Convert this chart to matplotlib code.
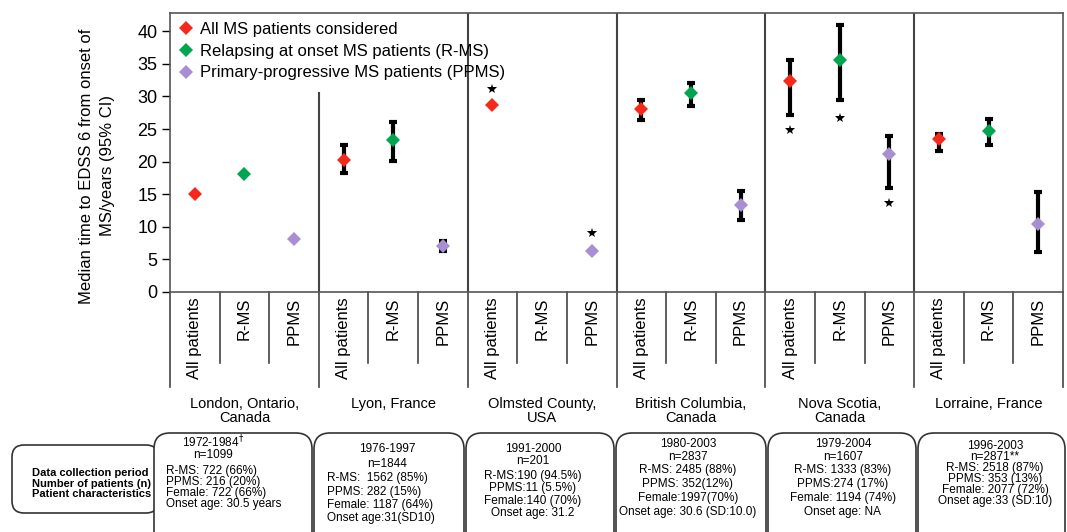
import numpy as np
import matplotlib
matplotlib.use("Agg")
import matplotlib.pyplot as plt
from matplotlib.patches import FancyBboxPatch

plt.rcParams['font.family'] = ['Liberation Sans', 'DejaVu Sans']

# cohorts and the three patient subsets plotted within each
groups = ["London, Ontario,\nCanada", "Lyon, France", "Olmsted County,\nUSA",
          "British Columbia,\nCanada", "Nova Scotia,\nCanada", "Lorraine, France"]
subsets = ["All patients", "R-MS", "PPMS"]

nan = np.nan
# median time to EDSS 6 (years) and 95% CI per cohort
all_med = [15.1, 20.2, 28.7, 28.0, 32.4, 23.4]
all_lo = [nan, 18.2, nan, 26.4, 27.2, 21.6]
all_hi = [nan, 22.5, nan, 29.4, 35.6, 24.3]

rms_med = [18.1, 23.3, nan, 30.5, 35.6, 24.7]
rms_lo = [nan, 20.1, nan, 28.5, 29.4, 22.6]
rms_hi = [nan, 26.1, nan, 32.1, 41.0, 26.6]

pp_med = [8.1, 7.0, 6.3, 13.3, 21.1, 10.4]
pp_lo = [nan, 6.3, nan, 11.0, 15.9, 6.1]
pp_hi = [nan, 7.8, nan, 15.5, 23.9, 15.3]

# asterisks: (cohort, subset, y)
stars = [(2, 0, 31.2), (2, 2, 9.0), (4, 0, 24.9), (4, 1, 26.7), (4, 2, 13.7)]

series = [
    ("All MS patients considered", "#f5281c", all_med, all_lo, all_hi),
    ("Relapsing at onset MS patients (R-MS)", "#00a550", rms_med, rms_lo, rms_hi),
    ("Primary-progressive MS patients (PPMS)", "#a78fd2", pp_med, pp_lo, pp_hi),
]

row_labels = "Data collection period\nNumber of patients (n)\nPatient characteristics"
box_head = [["1972-1984$^{\\dagger}$", "n=1099"], ["1976-1997", "n=1844"],
            ["1991-2000", "n=201"], ["1980-2003", "n=2837"],
            ["1979-2004", "n=1607"], ["1996-2003", "n=2871**"]]
box_body = [["R-MS: 722 (66%)", "PPMS: 216 (20%)", "Female: 722 (66%)", "Onset age: 30.5 years"],
            ["R-MS:  1562 (85%)", "PPMS: 282 (15%)", "Female: 1187 (64%)", "Onset age:31(SD10)"],
            ["R-MS:190 (94.5%)", "PPMS:11 (5.5%)", "Female:140 (70%)", "Onset age: 31.2"],
            ["R-MS: 2485 (88%)", "PPMS: 352(12%)", "Female:1997(70%)", "Onset age: 30.6 (SD:10.0)"],
            ["R-MS: 1333 (83%)", "PPMS:274 (17%)", "Female: 1194 (74%)", "Onset age: NA"],
            ["R-MS: 2518 (87%)", "PPMS: 353 (13%)", "Female: 2077 (72%)", "Onset age:33 (SD:10)"]]

W, H = 1067, 532
fig = plt.figure(figsize=(W / 100, H / 100), dpi=100)
ax = fig.add_axes([170 / W, 1 - 292 / H, (1063 - 170) / W, (292 - 13) / H])

ng = len(groups)
ymax = 42.8
for k, (label, color, med, lo, hi) in enumerate(series):
    med = np.array(med); lo = np.array(lo); hi = np.array(hi)
    x = np.arange(ng) * 3 + k
    ok = ~np.isnan(lo)
    ax.errorbar(x[ok], med[ok], yerr=[med[ok] - lo[ok], hi[ok] - med[ok]],
                fmt='none', ecolor='black', elinewidth=3, capsize=3, capthick=3, zorder=2)
    ax.plot(x, med, 'D', color=color, ms=7, mew=0, label=label, zorder=3)

for g, c, y in stars:
    ax.plot(3 * g + c, y, marker='*', color='black', ms=7, mew=0, zorder=3)

ax.set_xlim(-0.5, 3 * ng - 0.5)
ax.set_ylim(0, ymax)
ax.set_yticks(np.arange(0, 41, 5))
ax.tick_params(axis='y', labelsize=13, length=6, width=1, pad=3, direction='out')
ax.set_xticks(np.arange(3 * ng))
ax.set_xticklabels(subsets * ng, rotation=90, va='top', fontsize=12)
ax.tick_params(axis='x', length=0, pad=4)
for s in ax.spines.values():
    s.set_color('#555555')
    s.set_linewidth(1.2)

# cohort dividers inside the plot
for g in range(1, ng):
    top = 30.5 / ymax if g == 1 else 1
    ax.axvline(3 * g - 0.5, ymax=top, color='#444444', lw=1.5)

# separators under the axis
trans = ax.get_xaxis_transform()
for i in range(3 * ng + 1):
    depth = -0.34 if i % 3 == 0 else -0.255
    ax.plot([i - 0.5, i - 0.5], [0, depth], transform=trans, clip_on=False,
            color='#444444', lw=1.2)

for g, name in enumerate(groups):
    ax.text(3 * g + 1, -0.375, name, transform=trans, ha='center', va='top',
            fontsize=10.5, linespacing=1.05)

ax.legend(loc='upper left', bbox_to_anchor=(0, 1.0), frameon=False, fontsize=12,
          handlelength=0.8, handletextpad=0.45, labelspacing=0.4, borderaxespad=0.3,
          borderpad=0.25)

fig.text(97 / W, 1 - 166 / H, "Median time to EDSS 6 from onset of\nMS/years (95% CI)",
         rotation=90, ha='center', va='center', multialignment='center', fontsize=12,
         linespacing=1.45)

# table of cohort characteristics, in pixel units
ov = fig.add_axes([0, 0, 1, 1])
ov.set_xlim(0, W)
ov.set_ylim(H, 0)
ov.axis('off')

ov.add_patch(FancyBboxPatch((12, 445), 146, 68, boxstyle="round,pad=0,rounding_size=12",
                            fc='white', ec='#333333', lw=1.2))
for i, line in enumerate(row_labels.split("\n")):
    ov.text(32, 476 + i * 10.7, line, ha='left', va='baseline', fontsize=8,
            fontweight='bold')

box_x = [(154, 312), (314, 464), (466, 614), (616, 766), (768, 916), (918, 1065)]
head_y = [(443, 454), (448, 463), (448, 460), (443, 456), (443, 456), (445, 456)]
body_y = [(470, 11), (477, 13.3), (475, 12.3), (469, 14), (469, 14), (467, 11)]
body_left = [166, 327, None, None, None, None]
head_cx = [213, 387, 533, 688, 843, 995]
half_cap = 4.2

for j in range(ng):
    x0, x1 = box_x[j]
    ov.add_patch(FancyBboxPatch((x0, 433), x1 - x0, 140,
                                boxstyle="round,pad=0,rounding_size=16",
                                fc='white', ec='#333333', lw=1.2))
    for line, y in zip(box_head[j], head_y[j]):
        ov.text(head_cx[j], y + half_cap, line, ha='center', va='baseline', fontsize=8.5)
    y0, dy = body_y[j]
    for i, line in enumerate(box_body[j]):
        y = y0 + i * dy + half_cap
        if body_left[j] is None:
            ov.text(head_cx[j], y, line, ha='center', va='baseline', fontsize=8.5)
        else:
            ov.text(body_left[j], y, line, ha='left', va='baseline', fontsize=8.5)

fig.savefig("out.png", dpi=100)
